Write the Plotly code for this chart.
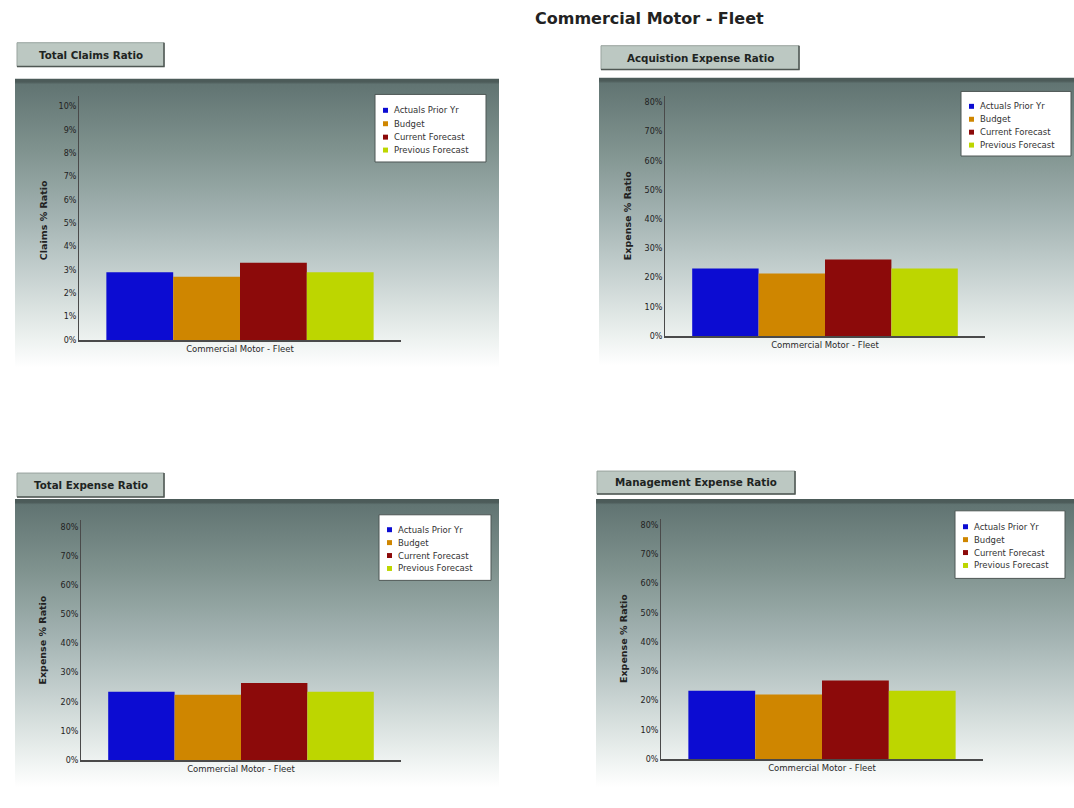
import base64
import plotly.graph_objects as go

W, H = 1074, 808

# ---- data -------------------------------------------------------------
category = ["Commercial Motor - Fleet"]
series = ["Actuals Prior Yr", "Budget", "Current Forecast", "Previous Forecast"]
colors = ["#0c0cd2", "#cf8600", "#8c0a0a", "#bdd600"]

panel_titles = ["Total Claims Ratio", "Acquistion Expense Ratio",
                "Total Expense Ratio", "Management Expense Ratio"]
axis_titles = ["Claims % Ratio", "Expense % Ratio", "Expense % Ratio", "Expense % Ratio"]

claims_ratio = [2.9, 2.7, 3.3, 2.9]
acquisition_ratio = [23.1, 21.4, 26.2, 23.1]
total_expense_ratio = [23.5, 22.4, 26.5, 23.5]
management_ratio = [23.4, 22.1, 26.9, 23.4]

claims_ticks = [0, 1, 2, 3, 4, 5, 6, 7, 8, 9, 10]
expense_ticks = [0, 10, 20, 30, 40, 50, 60, 70, 80]

panel_values = [claims_ratio, acquisition_ratio, total_expense_ratio, management_ratio]
panel_ticks = [claims_ticks, expense_ticks, expense_ticks, expense_ticks]

# ---- page geometry (pixels) ------------------------------------------
panels = [
    dict(plot_x=(79, 401), y_zero=342, y_toptick=107, y_axtop=97,
         bg=(15, 499, 79, 370), title=(17, 164, 43, 67),
         legend=(375, 486, 95, 163), rows=[111, 124.5, 138, 151],
         ytitle_x=43),
    dict(plot_x=(665, 985), y_zero=338, y_toptick=103, y_axtop=97,
         bg=(599, 1074, 78, 368), title=(601, 799, 46, 70),
         legend=(961, 1071, 92, 157), rows=[107, 120, 133, 146],
         ytitle_x=627),
    dict(plot_x=(81, 401), y_zero=765, y_toptick=530, y_axtop=523,
         bg=(15, 499, 502, 792), title=(17, 164, 476, 500),
         legend=(379, 491, 518, 584), rows=[533, 546, 559, 572],
         ytitle_x=43),
    dict(plot_x=(661, 983), y_zero=764, y_toptick=528, y_axtop=522,
         bg=(596, 1074, 502, 792), title=(597, 795, 474, 497),
         legend=(955, 1065, 514, 582), rows=[530, 543, 556, 569],
         ytitle_x=623),
]

FONT = "DejaVu Sans"
TEXT = "#2a2a2a"
AXIS = "#4a4a4a"


def px(x):
    return x / W


def py(y):
    return 1 - y / H


# vertical backdrop gradient (dark slate fading to white)
grad_svg = (
    "<svg xmlns='http://www.w3.org/2000/svg' width='100' height='100' "
    "viewBox='0 0 100 100' preserveAspectRatio='none'>"
    "<defs><linearGradient id='g' x1='0' y1='0' x2='0' y2='1'>"
    "<stop offset='0' stop-color='#4c5b59'/>"
    "<stop offset='0.012' stop-color='#4c5b59'/>"
    "<stop offset='0.02' stop-color='#617472'/>"
    "<stop offset='0.25' stop-color='#80938f'/>"
    "<stop offset='0.48' stop-color='#a3b3b2'/>"
    "<stop offset='0.68' stop-color='#c6d1d0'/>"
    "<stop offset='0.86' stop-color='#e6ecea'/>"
    "<stop offset='1' stop-color='#ffffff'/>"
    "</linearGradient></defs>"
    "<rect width='100' height='100' fill='url(#g)'/></svg>"
)
grad_uri = "data:image/svg+xml;base64," + base64.b64encode(grad_svg.encode()).decode()

fig = go.Figure()
images, shapes, annotations = [], [], []
layout_axes = {}

for i, (p, vals, ticks) in enumerate(zip(panels, panel_values, panel_ticks), start=1):
    xa = "x" if i == 1 else f"x{i}"
    ya = "y" if i == 1 else f"y{i}"

    for name, color, v in zip(series, colors, vals):
        fig.add_trace(go.Bar(
            x=category, y=[v], name=name, xaxis=xa, yaxis=ya,
            marker=dict(color=color, line=dict(width=0)),
            showlegend=False, hoverinfo="skip",
        ))

    # y range so that the top tick lands at its pixel row while the axis line runs a bit higher
    top_val = ticks[-1]
    rmax = top_val * (p["y_zero"] - p["y_axtop"]) / (p["y_zero"] - p["y_toptick"])

    layout_axes["xaxis" if i == 1 else f"xaxis{i}"] = dict(
        domain=[px(p["plot_x"][0]), px(p["plot_x"][1])], anchor=ya,
        type="category", range=[-0.5, 0.5], showline=True, linecolor=AXIS, linewidth=1.5,
        showgrid=False, zeroline=False, ticks="", fixedrange=True,
        tickfont=dict(family=FONT, size=8.5, color=TEXT),
    )
    layout_axes["yaxis" if i == 1 else f"yaxis{i}"] = dict(
        domain=[py(p["y_zero"]), py(p["y_axtop"])], anchor=xa,
        range=[0, rmax], tickmode="array", tickvals=ticks,
        ticktext=[f"{t}%" for t in ticks],
        showline=True, linecolor=AXIS, linewidth=1,
        showgrid=False, zeroline=False, ticks="", fixedrange=True,
        tickfont=dict(family=FONT, size=8, color="#222222"),
    )

    # backdrop
    bx0, bx1, by0, by1 = p["bg"]
    images.append(dict(
        source=grad_uri, xref="paper", yref="paper",
        x=px(bx0), y=py(by0), sizex=(bx1 - bx0) / W, sizey=(by1 - by0) / H,
        xanchor="left", yanchor="top", sizing="stretch", layer="below",
    ))

    # panel title box
    tx0, tx1, ty0, ty1 = p["title"]
    shapes.append(dict(type="rect", xref="paper", yref="paper",
                       x0=px(tx0), x1=px(tx1), y0=py(ty1), y1=py(ty0),
                       fillcolor="#bcc8c2", line=dict(color="#98a39e", width=1)))
    shapes.append(dict(type="path", xref="paper", yref="paper",
                       path=f"M {px(tx1)},{py(ty0)} L {px(tx1)},{py(ty1)} L {px(tx0)},{py(ty1)}",
                       line=dict(color="#4f5753", width=1.5)))
    annotations.append(dict(
        text=f"<b>{panel_titles[i - 1]}</b>", xref="paper", yref="paper",
        x=px((tx0 + tx1) / 2), y=py((ty0 + ty1) / 2), xanchor="center", yanchor="middle",
        showarrow=False, font=dict(family=FONT, size=10.3, color="#1e2422"),
    ))

    # y-axis title
    annotations.append(dict(
        text=f"<b>{axis_titles[i - 1]}</b>", xref="paper", yref="paper",
        x=px(p["ytitle_x"]), y=py((p["y_zero"] + p["y_toptick"]) / 2 - 3),
        xanchor="center", yanchor="middle", textangle=-90, showarrow=False,
        font=dict(family=FONT, size=9.5, color="#222222"),
    ))

    # legend box
    lx0, lx1, ly0, ly1 = p["legend"]
    shapes.append(dict(type="rect", xref="paper", yref="paper",
                       x0=px(lx0), x1=px(lx1), y0=py(ly1), y1=py(ly0),
                       fillcolor="#ffffff", line=dict(color="#4d5654", width=1)))
    for name, color, ry in zip(series, colors, p["rows"]):
        sx = lx0 + 10.5
        shapes.append(dict(type="rect", xref="paper", yref="paper",
                           x0=px(sx - 2.5), x1=px(sx + 2.5), y0=py(ry + 2.5), y1=py(ry - 2.5),
                           fillcolor=color, line=dict(width=0)))
        annotations.append(dict(
            text=name, xref="paper", yref="paper", x=px(lx0 + 17), y=py(ry),
            xanchor="left", yanchor="middle", showarrow=False,
            font=dict(family=FONT, size=8.5, color="#333333"),
        ))

annotations.append(dict(
    text="<b>Commercial Motor - Fleet</b>", xref="paper", yref="paper",
    x=px(649), y=py(19), xanchor="center", yanchor="middle", showarrow=False,
    font=dict(family=FONT, size=16, color="#222222"),
))

fig.update_layout(
    width=W, height=H, margin=dict(l=0, r=0, t=0, b=0),
    paper_bgcolor="#ffffff", plot_bgcolor="rgba(0,0,0,0)",
    barmode="group", bargap=0.17, bargroupgap=0,
    showlegend=False, images=images, shapes=shapes, annotations=annotations,
    **layout_axes,
)

fig.write_html("out.html")
